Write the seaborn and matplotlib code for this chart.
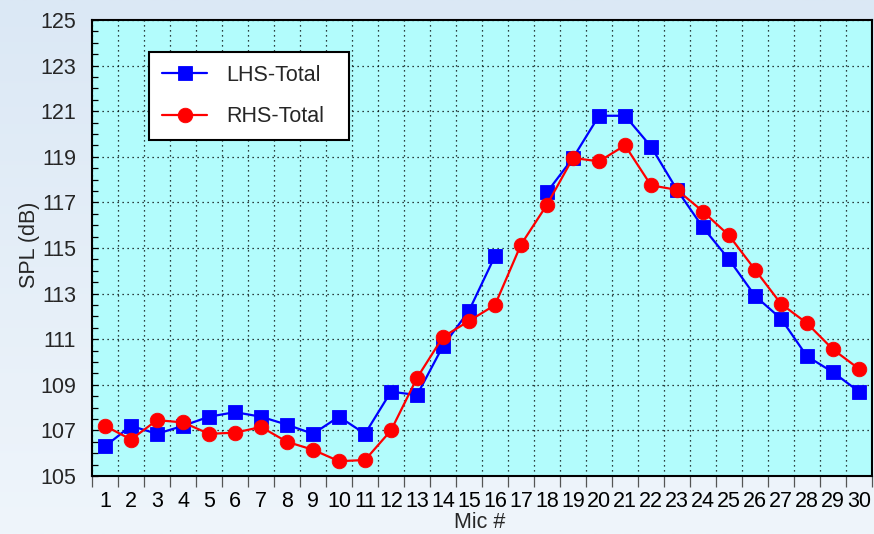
import numpy as np
import pandas as pd
import matplotlib
matplotlib.use("Agg")
import matplotlib.pyplot as plt
from matplotlib.ticker import FixedLocator
import seaborn as sns

# Microphone positions
mics = list(range(1, 31))

# Total SPL per microphone (dB); LHS has no reading at mic 17
lhs_total = [106.3, 107.2, 106.85, 107.2, 107.6, 107.8, 107.6, 107.25, 106.85, 107.6,
             106.85, 108.7, 108.55, 110.7, 112.25, 114.65, np.nan, 117.45, 118.95, 120.8,
             120.8, 119.45, 117.55, 115.9, 114.5, 112.9, 111.9, 110.25, 109.55, 108.7]
rhs_total = [107.2, 106.6, 107.45, 107.35, 106.85, 106.9, 107.15, 106.5, 106.15, 105.65,
             105.7, 107.0, 109.3, 111.1, 111.8, 112.5, 115.15, 116.9, 118.95, 118.8,
             119.5, 117.75, 117.55, 116.6, 115.55, 114.05, 112.55, 111.7, 110.55, 109.7]

series_names = ["LHS-Total", "RHS-Total"]
series_colors = {"LHS-Total": "#0000ff", "RHS-Total": "#ff0000"}
series_markers = {"LHS-Total": "s", "RHS-Total": "o"}

y_ticks = list(range(105, 126, 2))

# Long-format table; a gap in a series starts a new segment so the line breaks there
rows = []
for name, values in zip(series_names, [lhs_total, rhs_total]):
    seg = 0
    for m, v in zip(mics, values):
        if np.isnan(v):
            seg += 1
            continue
        rows.append({"mic": m, "spl": v, "series": name, "segment": seg})
df = pd.DataFrame(rows)

sns.set_theme(style="white")
plt.rcParams["font.family"] = ["Liberation Sans", "DejaVu Sans"]
FS = 15.5

fig = plt.figure(figsize=(8.74, 5.34), dpi=100)

# Soft blue vertical gradient behind everything
bg = fig.add_axes([0, 0, 1, 1], zorder=-10)
grad = np.linspace(0, 1, 256).reshape(-1, 1)
top_c = np.array([0xdb, 0xe8, 0xf5]) / 255
bot_c = np.array([0xef, 0xf5, 0xfb]) / 255
img = top_c[None, None, :] * (1 - grad[:, :, None]) + bot_c[None, None, :] * grad[:, :, None]
bg.imshow(img, aspect="auto", extent=[0, 1, 0, 1])
bg.set_axis_off()

ax = fig.add_axes([92 / 874, 1 - 476 / 534, 780 / 874, 456 / 534], zorder=1)
ax.set_facecolor("#b2fcfc")

sns.lineplot(data=df, x="mic", y="spl", hue="series", style="series",
             units="segment", estimator=None, sort=False,
             hue_order=series_names, style_order=series_names,
             palette=series_colors, markers=series_markers, dashes=False,
             linewidth=1.6, markersize=10.5, markeredgecolor=None,
             markeredgewidth=0.6, ax=ax)

ax.set_xlim(0.5, 30.5)
ax.set_ylim(105, 125)

# x: labels at each mic, tick marks and grid between mics
ax.xaxis.set_major_locator(FixedLocator(mics))
ax.set_xticklabels([str(m) for m in mics])
ax.xaxis.set_minor_locator(FixedLocator([m - 0.5 for m in mics] + [30.5]))
ax.tick_params(axis="x", which="major", length=0, pad=11, labelsize=FS, colors="black")
ax.tick_params(axis="x", which="minor", direction="out", length=8, width=0.9,
               color="#555555", bottom=True)

# y: labels every 2 dB, small inward ticks every 0.5 dB
ax.yaxis.set_major_locator(FixedLocator(y_ticks))
ax.set_yticklabels([str(v) for v in y_ticks])
ax.yaxis.set_minor_locator(FixedLocator(list(np.arange(105, 125.01, 0.5))))
ax.tick_params(axis="y", which="both", direction="in", length=4.5, width=0.9,
               color="black", left=True, pad=11.5, labelsize=FS)

ax.grid(False)
ax.grid(True, which="minor", axis="x", color="black", linestyle=(0, (1, 3)), linewidth=0.9)
ax.grid(True, which="major", axis="y", color="black", linestyle=(0, (1, 3)), linewidth=0.9)
ax.set_axisbelow(True)

for sp in ax.spines.values():
    sp.set_visible(True)
    sp.set_color("black")
    sp.set_linewidth(1.5)

ax.set_xlabel("Mic #", fontsize=FS)
ax.set_ylabel("SPL (dB)", fontsize=FS)
ax.xaxis.set_label_coords(0.497, -0.079)
ax.yaxis.set_label_coords(-0.067, 0.507)

handles, labels = ax.get_legend_handles_labels()
leg = ax.legend(handles, labels, loc="upper left",
                bbox_to_anchor=(57 / 780, 0.5, 200 / 780, 0.43), mode="expand",
                fontsize=FS, frameon=True, fancybox=False, framealpha=1,
                edgecolor="black", facecolor="white", handlelength=2.1,
                handletextpad=0.9, labelspacing=0.95, borderpad=0.6,
                borderaxespad=0)
leg.get_frame().set_linewidth(1.5)

fig.savefig("out.png", dpi=100)
